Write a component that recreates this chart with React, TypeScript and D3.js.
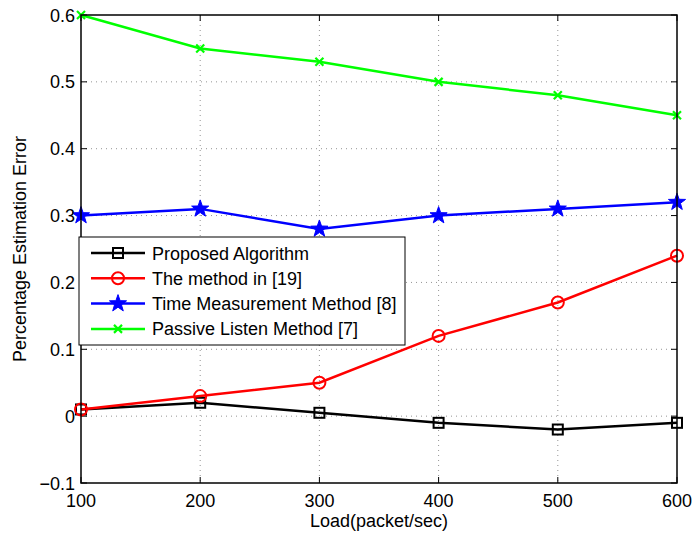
import React from "react";
import * as d3 from "d3";

const loads = [100, 200, 300, 400, 500, 600];
const proposed = [0.01, 0.02, 0.005, -0.01, -0.02, -0.01];
const method19 = [0.01, 0.03, 0.05, 0.12, 0.17, 0.24];
const timeMeas = [0.30, 0.31, 0.28, 0.30, 0.31, 0.32];
const passive = [0.60, 0.55, 0.53, 0.50, 0.48, 0.45];
const xTicks = [100, 200, 300, 400, 500, 600];
const yTicks = [-0.1, 0, 0.1, 0.2, 0.3, 0.4, 0.5, 0.6];
const seriesNames = [
  "Proposed Algorithm",
  "The method in [19]",
  "Time Measurement Method [8]",
  "Passive Listen Method [7]",
];

const W = 693, H = 535;
const L = 81, R = 677, T = 15, B = 483;
const font = "Liberation Sans, Arial, Helvetica, sans-serif";

function Marker({ kind, x, y, color }: { kind: string; x: number; y: number; color: string }) {
  if (kind === "square")
    return <rect x={x - 5} y={y - 5} width={10} height={10} fill="none" stroke={color} strokeWidth={2} />;
  if (kind === "circle")
    return <circle cx={x} cy={y} r={6} fill="none" stroke={color} strokeWidth={2} />;
  if (kind === "star") {
    const pts: string[] = [];
    for (let i = 0; i < 10; i++) {
      const r = i % 2 === 0 ? 9 : 3.6;
      const a = -Math.PI / 2 + (i * Math.PI) / 5;
      pts.push(`${x + r * Math.cos(a)},${y + r * Math.sin(a)}`);
    }
    return <polygon points={pts.join(" ")} fill={color} stroke={color} strokeWidth={1} />;
  }
  return (
    <g stroke={color} strokeWidth={2.2}>
      <line x1={x - 4} y1={y - 4} x2={x + 4} y2={y + 4} />
      <line x1={x - 4} y1={y + 4} x2={x + 4} y2={y - 4} />
    </g>
  );
}

export default function App() {
  const x = d3.scaleLinear().domain([100, 600]).range([L, R]);
  const y = d3.scaleLinear().domain([-0.1, 0.6]).range([B, T]);
  const series = [
    { name: seriesNames[0], data: proposed, color: "#000000", kind: "square" },
    { name: seriesNames[1], data: method19, color: "#ff0000", kind: "circle" },
    { name: seriesNames[2], data: timeMeas, color: "#0000ff", kind: "star" },
    { name: seriesNames[3], data: passive, color: "#00ff00", kind: "x" },
  ];
  const line = d3.line<number>().x((_, i) => x(loads[i])).y((d) => y(d));
  const fmt = (v: number) => (Math.abs(v) < 1e-9 ? "0" : v < 0 ? "\u2212" + String(Math.abs(v)) : String(v));

  const legX = 79, legY = 237, legW = 326, legH = 108;
  return (
    <svg width={W} height={H} style={{ display: "block", position: "absolute", left: 0, top: 0 }} fontFamily={font}>
      <rect x={0} y={0} width={W} height={H} fill="#fff" />
      <g stroke="#000" strokeWidth={0.6} strokeDasharray="1,4" opacity={0.7}>
        {xTicks.slice(1, -1).map((t) => (
          <line key={"gx" + t} x1={x(t)} x2={x(t)} y1={T} y2={B} />
        ))}
        {yTicks.slice(1, -1).map((t) => (
          <line key={"gy" + t} x1={L} x2={R} y1={y(t)} y2={y(t)} />
        ))}
      </g>
      <g stroke="#000" strokeWidth={1}>
        {xTicks.map((t) => (
          <g key={"tx" + t}>
            <line x1={x(t)} x2={x(t)} y1={B} y2={B - 6} />
            <line x1={x(t)} x2={x(t)} y1={T} y2={T + 6} />
          </g>
        ))}
        {yTicks.map((t) => (
          <g key={"ty" + t}>
            <line x1={L} x2={L + 6} y1={y(t)} y2={y(t)} />
            <line x1={R} x2={R - 6} y1={y(t)} y2={y(t)} />
          </g>
        ))}
      </g>
      {series.map((s) => (
        <g key={s.name}>
          <path d={line(s.data) || ""} fill="none" stroke={s.color} strokeWidth={2.5} />
          {s.data.map((v, i) => (
            <Marker key={i} kind={s.kind} x={x(loads[i])} y={y(v)} color={s.color} />
          ))}
        </g>
      ))}
      <rect x={L} y={T} width={R - L} height={B - T} fill="none" stroke="#000" strokeWidth={1.5} />
      {xTicks.map((t) => (
        <text key={"lx" + t} x={x(t)} y={507} fontSize={18} textAnchor="middle">
          {t}
        </text>
      ))}
      {yTicks.map((t) => (
        <text key={"ly" + t} x={75} y={y(t) + 6.5} fontSize={18} textAnchor="end">
          {fmt(Math.round(t * 10) / 10)}
        </text>
      ))}
      <text x={(L + R) / 2} y={527} fontSize={18} textAnchor="middle">
        Load(packet/sec)
      </text>
      <text transform={`translate(26,${(T + B) / 2}) rotate(-90)`} fontSize={18} textAnchor="middle">
        Percentage Estimation Error
      </text>
      <rect x={legX} y={legY} width={legW} height={legH} fill="#fff" stroke="#000" strokeWidth={1} />
      {series.map((s, i) => {
        const cy = legY + 16 + i * 25.3;
        return (
          <g key={"leg" + s.name}>
            <line x1={legX + 12} x2={legX + 66} y1={cy} y2={cy} stroke={s.color} strokeWidth={2.5} />
            <Marker kind={s.kind} x={legX + 39} y={cy} color={s.color} />
            <text x={legX + 73} y={cy + 6.5} fontSize={18}>
              {s.name}
            </text>
          </g>
        );
      })}
    </svg>
  );
}
